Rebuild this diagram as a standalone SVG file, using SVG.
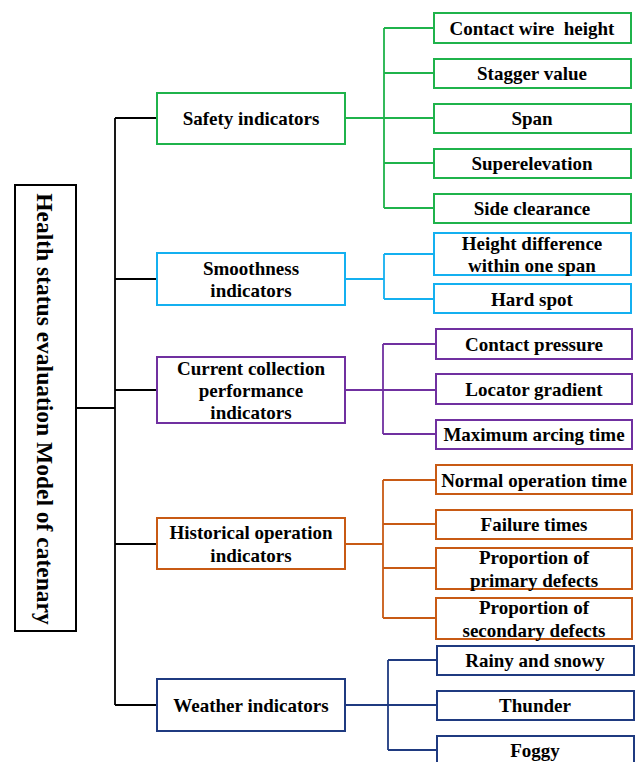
<svg xmlns="http://www.w3.org/2000/svg" width="635" height="762" viewBox="0 0 635 762">
<style>
text{font-family:"Liberation Serif","Times New Roman",serif;font-weight:bold;font-size:19px;fill:#000;text-anchor:middle;white-space:pre}
rect{fill:#fff;stroke-width:2}
.ln{fill:none;stroke-width:1.8}
.k{stroke:#000}.g{stroke:#1fb34b}.c{stroke:#14b0f0}.p{stroke:#7030a0}.o{stroke:#c85a14}.n{stroke:#1f3a80}
</style>
<rect width="635" height="762" style="fill:#fff;stroke:none"/>
<g id="connectors">
<path class="ln k" d="M76 408H115M115 118V705M115 118H157M115 279H157M115 390H157M115 544H157M115 705H157"/>
<path class="ln g" d="M345 118H434M384 28V208M384 28H434M384 73H434M384 163H434M384 208H434"/>
<path class="ln c" d="M345 279H384M384 254V299M384 254H434M384 299H434"/>
<path class="ln p" d="M345 390H436M383 344V434M383 344H436M383 434H436"/>
<path class="ln o" d="M345 544H383M383 480V618M383 480H436M383 524H436M383 568H436M383 618H436"/>
<path class="ln n" d="M345 705H437M388 660V750M388 660H437M388 750H437"/>
</g>
<g id="root"><rect x="15" y="185" width="61" height="446" class="k"/><text transform="translate(45 409) rotate(90)" y="8" style="font-size:23.5px">Health status evaluation Model of catenary</text></g>
<g id="safety"><rect x="157" y="93" width="188" height="51" class="g"/><text x="251" y="125">Safety indicators</text></g>
<g id="smooth"><rect x="157" y="253" width="188" height="52" class="c"/><text x="251" y="275">Smoothness</text><text x="251" y="297">indicators</text></g>
<g id="current"><rect x="157" y="357" width="188" height="66" class="p"/><text x="251" y="375">Current collection</text><text x="251" y="397">performance</text><text x="251" y="419">indicators</text></g>
<g id="historical"><rect x="157" y="518" width="188" height="51" class="o"/><text x="251" y="539">Historical operation</text><text x="251" y="562">indicators</text></g>
<g id="weather"><rect x="157" y="679" width="188" height="52" class="n"/><text x="251" y="712">Weather indicators</text></g>
<g id="s1"><rect x="434" y="13" width="197" height="30" class="g"/><text x="532" y="35" xml:space="preserve">Contact wire  height</text></g>
<g id="s2"><rect x="434" y="59" width="197" height="29" class="g"/><text x="532" y="80">Stagger value</text></g>
<g id="s3"><rect x="434" y="104" width="197" height="29" class="g"/><text x="532" y="125">Span</text></g>
<g id="s4"><rect x="434" y="149" width="197" height="29" class="g"/><text x="532" y="170">Superelevation</text></g>
<g id="s5"><rect x="434" y="194" width="197" height="29" class="g"/><text x="532" y="215">Side clearance</text></g>
<g id="m1"><rect x="434" y="233" width="197" height="42" class="c"/><text x="532" y="250">Height difference</text><text x="532" y="272">within one span</text></g>
<g id="m2"><rect x="434" y="284" width="197" height="29" class="c"/><text x="532" y="306">Hard spot</text></g>
<g id="c1"><rect x="436" y="329" width="196" height="30" class="p"/><text x="534" y="351">Contact pressure</text></g>
<g id="c2"><rect x="436" y="374" width="196" height="30" class="p"/><text x="534" y="396">Locator gradient</text></g>
<g id="c3"><rect x="436" y="420" width="196" height="29" class="p"/><text x="534" y="441">Maximum arcing time</text></g>
<g id="h1"><rect x="436" y="465" width="196" height="29" class="o"/><text x="534" y="487">Normal operation time</text></g>
<g id="h2"><rect x="436" y="510" width="196" height="29" class="o"/><text x="534" y="531">Failure times</text></g>
<g id="h3"><rect x="436" y="548" width="196" height="41" class="o"/><text x="534" y="564">Proportion of</text><text x="534" y="587">primary defects</text></g>
<g id="h4"><rect x="436" y="598" width="196" height="41" class="o"/><text x="534" y="614">Proportion of</text><text x="534" y="637">secondary defects</text></g>
<g id="w1"><rect x="437" y="646" width="197" height="29" class="n"/><text x="535" y="667">Rainy and snowy</text></g>
<g id="w2"><rect x="437" y="691" width="197" height="29" class="n"/><text x="535" y="712">Thunder</text></g>
<g id="w3"><rect x="437" y="736" width="197" height="40" class="n"/><text x="535" y="757">Foggy</text></g>
</svg>
